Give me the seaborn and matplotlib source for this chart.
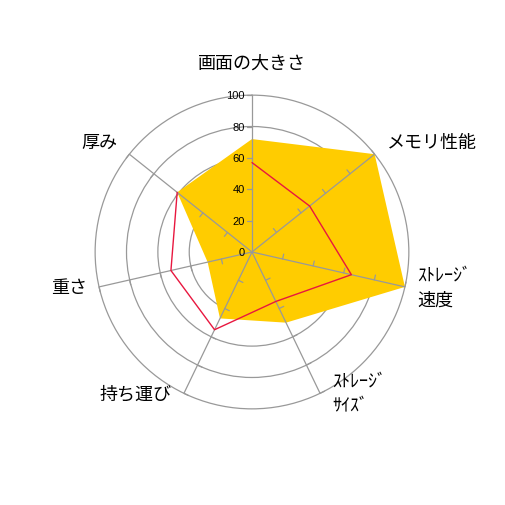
import numpy as np
import matplotlib
matplotlib.use('Agg')
import matplotlib.pyplot as plt
import seaborn as sns

# axis names, clockwise from the top
categories = ['画面の大きさ', 'メモリ性能', 'ｽﾄﾚｰｼﾞ\n速度', 'ｽﾄﾚｰｼﾞ\nｻｲｽﾞ', '持ち運び', '重さ', '厚み']
yellow_vals = [72, 100, 100, 50, 47, 29, 61]
red_vals = [57, 47, 65, 35, 55, 53, 61]
rticks = [0, 20, 40, 60, 80, 100]

sns.set_theme(style='white')
plt.rcParams['font.family'] = ['Noto Sans CJK JP', 'DejaVu Sans']

grid_col = '#999999'
fill_col = '#FFCC00'
red_col = '#E8173F'

n = len(categories)
theta = np.arange(n) * 2 * np.pi / n
theta_c = np.append(theta, theta[0])

fig = plt.figure(figsize=(5.06, 5.06), dpi=100)
ax = fig.add_axes([0.188, 0.190, 0.620, 0.620], projection='polar')
ax.set_theta_zero_location('N')
ax.set_theta_direction(-1)
ax.set_ylim(0, 100)
ax.set_axisbelow(True)

# circles (under the fill)
ax.set_yticks(rticks[1:])
ax.set_yticklabels([])
ax.yaxis.grid(True, color=grid_col, lw=0.9)
for gl in ax.yaxis.get_gridlines():
    gl.set_clip_on(False)
ax.set_xticks(theta)
ax.set_xticklabels([])
ax.xaxis.grid(False)
ax.spines['polar'].set_visible(False)

# series
ax.fill(theta_c, np.append(yellow_vals, yellow_vals[0]), color=fill_col, lw=0, zorder=1)

# spokes drawn over the fill
for t in theta:
    ax.plot([t, t], [0, 100], color=grid_col, lw=0.9, zorder=2)

# small tick marks on each spoke
px_per_unit = 0.620 * 506 / 2 / 100
tick_px = 5
for t in theta:
    for v in rticks[1:]:
        dth = np.arctan(tick_px / (v * px_per_unit))
        ax.plot([t, t - dth], [v, np.hypot(v, tick_px / px_per_unit)],
                color=grid_col, lw=0.9, zorder=2, clip_on=False)

sns.lineplot(x=theta_c, y=np.append(red_vals, red_vals[0]), sort=False,
             color=red_col, lw=1.0, ax=ax, zorder=3, legend=False)
ax.set_xlabel('')
ax.set_ylabel('')

# value labels along the top spoke
for v in rticks:
    ax.annotate(str(v), xy=(0, v), xytext=(-5, 0), textcoords='offset points',
                ha='right', va='center', fontsize=8, family='Liberation Sans',
                color='black', zorder=4)

# category labels
for t, lab in zip(theta, categories):
    s, c = np.sin(t), np.cos(t)
    if abs(s) < 0.1:
        ax.annotate(lab, xy=(t, 100), xytext=(0, 33 * 0.72), textcoords='offset points',
                    ha='center', va='center', fontsize=13, color='black')
    else:
        dx = 12 * np.sign(s) * 0.72
        dy = max(c, 0) * 20 * 0.72
        ax.annotate(lab, xy=(t, 100), xytext=(dx, dy), textcoords='offset points',
                    ha='left' if s > 0 else 'right', va='center', fontsize=13,
                    linespacing=1.5, color='black', annotation_clip=False)

fig.savefig('out.png', dpi=100)
